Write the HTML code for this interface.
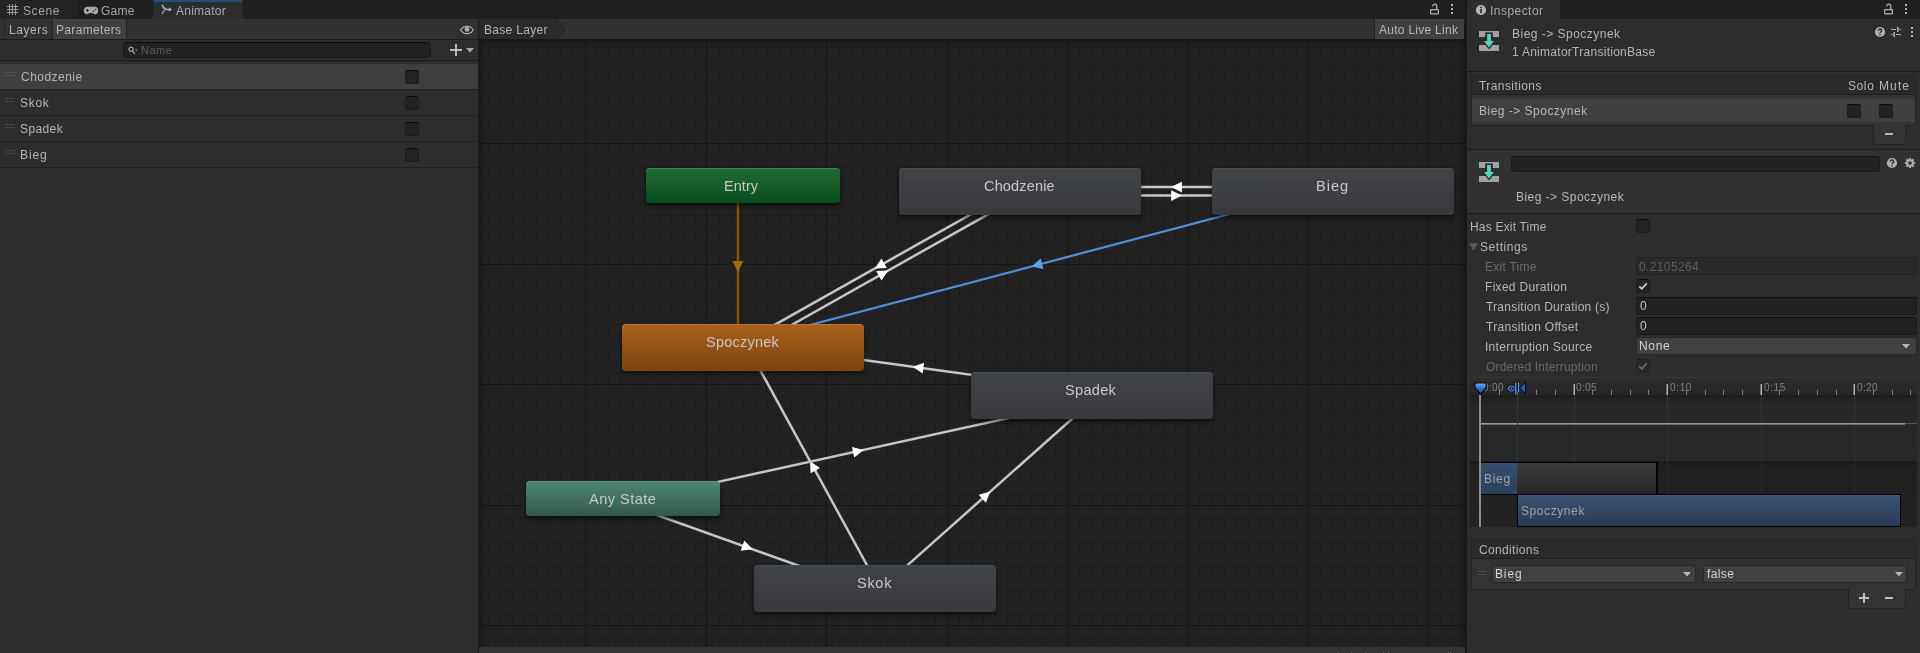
<!DOCTYPE html>
<html><head><meta charset="utf-8"><title>Animator</title>
<style>
html,body{margin:0;padding:0;background:#1f1f1f;}
body{width:1920px;height:653px;overflow:hidden;position:relative;font-family:"Liberation Sans", sans-serif;}
#r{position:absolute;left:0;top:0;width:1920px;height:653px;overflow:hidden;background:#1f1f1f;}
#r div,#r span,#r svg{position:absolute;box-sizing:border-box;}
#r span{white-space:pre;font-family:"Liberation Sans", sans-serif;will-change:transform;}
</style></head><body><div id="r">
<div style="left:0px;top:0px;width:1465px;height:19px;background:#1f1f1f;"></div>
<div style="left:0px;top:0px;width:77px;height:19px;background:#242424;"></div>
<div style="left:153px;top:0px;width:90px;height:19px;background:#2d2d2d;border-radius:3px 3px 0 0;"></div>
<div style="left:153px;top:0px;width:90px;height:2px;background:#22507b;border-radius:3px 3px 0 0;"></div>
<svg style="left:6px;top:3px" width="14" height="14" viewBox="0 0 14 14" shape-rendering="crispEdges"><path d="M3.500 1v11M6.500 1v11M9.500 1v11M1 3.500h11M1 6.500h11M1 9.500h11" stroke="#9c9c9c" stroke-width="1" fill="none"/></svg>
<span style="left:22.54px;top:4.84px;font-size:12px;line-height:12px;color:#a6a6a6;letter-spacing:0.578px;">Scene</span>
<svg style="left:83px;top:5px" width="16" height="10" viewBox="0 0 16 10"><path d="M4.400 1.800h7.200c2.100 0 3.600 1.600 3.600 3.800 0 2.200-1.200 3.700-2.800 3.700-1.100 0-1.800-.5-2.500-1.300H6.100c-.7.800-1.400 1.300-2.500 1.300C2 9.300.8 7.800.8 5.600c0-2.200 1.500-3.800 3.600-3.800z" fill="#a8a8a8"/><path d="M3.100 5.400h2.800M4.500 4v2.800" stroke="#222" stroke-width="1"/><circle cx="10.500" cy="6.200" r=".75" fill="#222"/><circle cx="12.500" cy="4.500" r=".75" fill="#222"/></svg>
<span style="left:100.95px;top:4.84px;font-size:12px;line-height:12px;color:#a6a6a6;letter-spacing:0.220px;">Game</span>
<svg style="left:161px;top:4px" width="12" height="11" viewBox="0 0 12 11"><path d="M1.400 1.300c.7 2.600 2 3.800 4.200 4.200H8.500" stroke="#a8a8a8" stroke-width="1.600" fill="none" stroke-linecap="round"/><path d="M1.400 9.700c.4-1.400 1-2.400 2-3.100" stroke="#909090" stroke-width="1.500" fill="none" stroke-linecap="round"/><path d="M7.800 3.200l3.400 2.300-3.400 2.300z" fill="#a8a8a8"/></svg>
<span style="left:176.12px;top:4.84px;font-size:12px;line-height:12px;color:#aaaaaa;letter-spacing:0.253px;">Animator</span>
<svg style="left:1429px;top:3px" width="12" height="12" viewBox="0 0 12 12"><rect x="1.600" y="6.600" width="7.800" height="4.300" rx=".6" fill="none" stroke="#b4b4b4" stroke-width="1.200"/><path d="M7.800 6.400V3.600c0-1.500-.9-2.400-2.100-2.400s-2.100.9-2.100 2.200" fill="none" stroke="#b4b4b4" stroke-width="1.200"/></svg>
<div style="left:1451px;top:4.3px;width:2px;height:2px;background:#b4b4b4;"></div>
<div style="left:1451px;top:8px;width:2px;height:2px;background:#b4b4b4;"></div>
<div style="left:1451px;top:11.8px;width:2px;height:2px;background:#b4b4b4;"></div>
<div style="left:0px;top:19px;width:478px;height:20px;background:#313131;"></div>
<div style="left:4px;top:19px;width:1px;height:20px;background:#232323;"></div>
<div style="left:52px;top:19px;width:1px;height:20px;background:#232323;"></div>
<div style="left:53px;top:19px;width:73px;height:20px;background:#404040;"></div>
<div style="left:126px;top:19px;width:1px;height:20px;background:#232323;"></div>
<span style="left:8.55px;top:23.84px;font-size:12px;line-height:12px;color:#b6b6b6;letter-spacing:0.526px;">Layers</span>
<span style="left:56.45px;top:23.84px;font-size:12px;line-height:12px;color:#b6b6b6;letter-spacing:0.331px;">Parameters</span>
<svg style="left:459px;top:24px" width="16" height="12" viewBox="0 0 16 12"><path d="M1.600 6c1.600-2.400 3.800-3.600 6.400-3.600s4.800 1.200 6.400 3.600c-1.600 2.400-3.800 3.600-6.400 3.600S3.200 8.400 1.600 6z" fill="none" stroke="#b0b0b0" stroke-width="1.200"/><circle cx="8" cy="5.400" r="2.300" fill="#b0b0b0"/></svg>
<div style="left:0px;top:39px;width:478px;height:1px;background:#1b1b1b;"></div>
<div style="left:0px;top:40px;width:478px;height:20px;background:#2d2d2d;"></div>
<div style="left:123px;top:42px;width:308px;height:16px;background:#222222;border:1px solid #1a1a1a;border-top-color:#0b0b0b;border-radius:4px;"></div>
<svg style="left:127px;top:45px" width="12" height="11" viewBox="0 0 12 11"><circle cx="4" cy="4.300" r="2.100" fill="none" stroke="#a0a0a0" stroke-width="1.200"/><path d="M5.500 5.900l2.300 2.900" stroke="#a0a0a0" stroke-width="1.300"/><path d="M8 4.400h2.600l-1.300 1.600z" fill="#a0a0a0"/></svg>
<span style="left:141.49px;top:44.69px;font-size:11px;line-height:11px;color:#5c5c5c;letter-spacing:0.523px;">Name</span>
<div style="left:450px;top:49px;width:12px;height:2px;background:#b8b8b8;"></div>
<div style="left:455px;top:44px;width:2px;height:12px;background:#b8b8b8;"></div>
<svg style="left:466px;top:48px" width="8" height="5" viewBox="0 0 8 5"><path d="M0 0h8L4 4.500z" fill="#a8a8a8"/></svg>
<div style="left:0px;top:60px;width:478px;height:1px;background:#1b1b1b;"></div>
<div style="left:0px;top:61px;width:478px;height:592px;background:#2d2d2d;"></div>
<div style="left:0px;top:64px;width:478px;height:25px;background:#3f3f3f;"></div>
<div style="left:0px;top:89px;width:478px;height:1px;background:#202020;"></div>
<div style="left:5px;top:72px;width:10px;height:1px;background:#505050;"></div>
<div style="left:5px;top:75px;width:10px;height:1px;background:#505050;"></div>
<span style="left:21.01px;top:70.84px;font-size:12px;line-height:12px;color:#b6b6b6;letter-spacing:0.469px;">Chodzenie</span>
<div style="left:405px;top:70px;width:14px;height:14px;background:#232323;border:1px solid #1c1c1c;border-top-color:#0c0c0c;border-radius:2.5px;"></div>
<div style="left:0px;top:115px;width:478px;height:1px;background:#202020;"></div>
<div style="left:5px;top:98px;width:10px;height:1px;background:#454545;"></div>
<div style="left:5px;top:101px;width:10px;height:1px;background:#454545;"></div>
<span style="left:20.24px;top:96.84px;font-size:12px;line-height:12px;color:#b6b6b6;letter-spacing:0.723px;">Skok</span>
<div style="left:405px;top:96px;width:14px;height:14px;background:#232323;border:1px solid #1c1c1c;border-top-color:#0c0c0c;border-radius:2.5px;"></div>
<div style="left:0px;top:141px;width:478px;height:1px;background:#202020;"></div>
<div style="left:5px;top:124px;width:10px;height:1px;background:#454545;"></div>
<div style="left:5px;top:127px;width:10px;height:1px;background:#454545;"></div>
<span style="left:20.24px;top:122.84px;font-size:12px;line-height:12px;color:#b6b6b6;letter-spacing:0.396px;">Spadek</span>
<div style="left:405px;top:122px;width:14px;height:14px;background:#232323;border:1px solid #1c1c1c;border-top-color:#0c0c0c;border-radius:2.5px;"></div>
<div style="left:0px;top:167px;width:478px;height:1px;background:#202020;"></div>
<div style="left:5px;top:150px;width:10px;height:1px;background:#454545;"></div>
<div style="left:5px;top:153px;width:10px;height:1px;background:#454545;"></div>
<span style="left:20.25px;top:148.84px;font-size:12px;line-height:12px;color:#b6b6b6;letter-spacing:0.923px;">Bieg</span>
<div style="left:405px;top:148px;width:14px;height:14px;background:#232323;border:1px solid #1c1c1c;border-top-color:#0c0c0c;border-radius:2.5px;"></div>
<div style="left:478px;top:19px;width:1px;height:634px;background:#1a1a1a;"></div>
<div style="left:479px;top:19px;width:985px;height:20px;background:#313131;"></div>
<svg style="left:479px;top:19px" width="90" height="20" viewBox="0 0 90 20"><path d="M0 0h77.500L86.500 10 77.500 20H0z" fill="#2a2a2a"/><path d="M77.500 0L86.500 10 77.500 20" fill="none" stroke="#202020" stroke-width="1"/></svg>
<span style="left:484.35px;top:23.84px;font-size:12px;line-height:12px;color:#b6b6b6;letter-spacing:0.313px;">Base Layer</span>
<div style="left:1374px;top:19px;width:1px;height:20px;background:#232323;"></div>
<div style="left:1375px;top:19px;width:89px;height:20px;background:#404040;"></div>
<span style="left:1379.07px;top:23.84px;font-size:12px;line-height:12px;color:#b6b6b6;letter-spacing:0.272px;">Auto Live Link</span>
<div style="left:479px;top:39px;width:986px;height:608px;background:#222222;"></div>
<svg style="left:479px;top:39px" width="986" height="608" shape-rendering="crispEdges"><path d="M10.5 0V608M22.5 0V608M34.5 0V608M46.5 0V608M58.5 0V608M70.5 0V608M82.5 0V608M94.5 0V608M118.5 0V608M130.5 0V608M142.5 0V608M154.5 0V608M166.5 0V608M179.5 0V608M191.5 0V608M203.5 0V608M215.5 0V608M239.5 0V608M251.5 0V608M263.5 0V608M275.5 0V608M287.5 0V608M299.5 0V608M311.5 0V608M323.5 0V608M335.5 0V608M359.5 0V608M371.5 0V608M383.5 0V608M395.5 0V608M407.5 0V608M419.5 0V608M431.5 0V608M443.5 0V608M456.5 0V608M480.5 0V608M492.5 0V608M504.5 0V608M516.5 0V608M528.5 0V608M540.5 0V608M552.5 0V608M564.5 0V608M576.5 0V608M600.5 0V608M612.5 0V608M624.5 0V608M636.5 0V608M648.5 0V608M660.5 0V608M672.5 0V608M684.5 0V608M696.5 0V608M720.5 0V608M733.5 0V608M745.5 0V608M757.5 0V608M769.5 0V608M781.5 0V608M793.5 0V608M805.5 0V608M817.5 0V608M841.5 0V608M853.5 0V608M865.5 0V608M877.5 0V608M889.5 0V608M901.5 0V608M913.5 0V608M925.5 0V608M937.5 0V608M961.5 0V608M973.5 0V608M985.5 0V608M0 8.5H986M0 20.5H986M0 32.5H986M0 44.5H986M0 56.5H986M0 68.5H986M0 80.5H986M0 92.5H986M0 116.5H986M0 128.5H986M0 140.5H986M0 152.5H986M0 164.5H986M0 176.5H986M0 188.5H986M0 201.5H986M0 213.5H986M0 237.5H986M0 249.5H986M0 261.5H986M0 273.5H986M0 285.5H986M0 297.5H986M0 309.5H986M0 321.5H986M0 333.5H986M0 357.5H986M0 369.5H986M0 381.5H986M0 393.5H986M0 405.5H986M0 417.5H986M0 429.5H986M0 442.5H986M0 454.5H986M0 478.5H986M0 490.5H986M0 502.5H986M0 514.5H986M0 526.5H986M0 538.5H986M0 550.5H986M0 562.5H986M0 574.5H986M0 598.5H986" stroke="#1c1c1c" stroke-width="1" fill="none"/><path d="M106.5 0V608M227.5 0V608M347.5 0V608M468.5 0V608M588.5 0V608M708.5 0V608M829.5 0V608M949.5 0V608M0 104.5H986M0 225.5H986M0 345.5H986M0 466.5H986M0 586.5H986" stroke="#151515" stroke-width="1" fill="none"/></svg>
<div style="left:479px;top:39px;width:986px;height:7px;background:linear-gradient(#151515cc,#15151500);"></div>
<div style="left:479px;top:39px;width:6px;height:608px;background:linear-gradient(90deg,#151515aa,#15151500);"></div>
<div style="left:1458px;top:39px;width:7px;height:608px;background:linear-gradient(270deg,#15151590,#15151500);"></div>
<svg style="left:479px;top:39px" width="986" height="608"><path d="M258.90 146.50L258.90 308.50" stroke="#865700" stroke-width="2.4" fill="none"/><path d="M258.90 232.90L253.50 222.10L264.30 222.10z" fill="#a26d00"/><path d="M538.94 148.84L261.94 304.84" stroke="#c6c6c6" stroke-width="2.5" fill="none"/><path d="M395.73 229.49L402.49 219.49L407.79 228.90z" fill="#ffffff"/><path d="M266.06 312.16L543.06 156.16" stroke="#c6c6c6" stroke-width="2.5" fill="none"/><path d="M409.27 231.51L402.51 241.51L397.21 232.10z" fill="#ffffff"/><path d="M852.82 148.05L262.82 304.05" stroke="#5191d8" stroke-width="2.2" fill="none"/><path d="M552.60 227.43L561.66 219.45L564.43 229.89z" fill="#5da2ec"/><path d="M541.00 156.60L854.00 156.60" stroke="#c6c6c6" stroke-width="2.5" fill="none"/><path d="M702.90 156.60L692.10 162.00L692.10 151.20z" fill="#ffffff"/><path d="M854.00 148.10L541.00 148.10" stroke="#c6c6c6" stroke-width="2.5" fill="none"/><path d="M692.10 148.10L702.90 142.70L702.90 153.50z" fill="#ffffff"/><path d="M613.56 352.44L264.56 304.44" stroke="#c6c6c6" stroke-width="2.5" fill="none"/><path d="M433.71 327.70L445.14 323.82L443.67 334.52z" fill="#ffffff"/><path d="M399.68 547.48L267.68 306.48" stroke="#c6c6c6" stroke-width="2.5" fill="none"/><path d="M331.09 422.25L341.01 429.12L331.54 434.31z" fill="#ffffff"/><path d="M144.90 463.60L613.90 360.60" stroke="#c6c6c6" stroke-width="2.5" fill="none"/><path d="M384.68 410.94L375.28 418.53L372.97 407.99z" fill="#ffffff"/><path d="M398.79 552.64L615.79 359.64" stroke="#c6c6c6" stroke-width="2.5" fill="none"/><path d="M511.33 452.55L506.84 463.76L499.67 455.69z" fill="#ffffff"/><path d="M142.59 463.46L394.59 553.46" stroke="#c6c6c6" stroke-width="2.5" fill="none"/><path d="M273.67 510.27L261.69 511.72L265.32 501.55z" fill="#ffffff"/></svg>
<div style="left:646px;top:168px;width:194px;height:35px;background:linear-gradient(#256b34,#054d1d);border-radius:4px;box-shadow:0 3px 5px 0 rgba(0,0,0,.5), inset 0 1px 0 #5a9a6680;"></div>
<span style="left:724.29px;top:178.73px;font-size:14.5px;line-height:14.5px;color:#c8c8c8;letter-spacing:0.045px;">Entry</span>
<div style="left:899px;top:168px;width:242px;height:47px;background:linear-gradient(#414447,#38393c);border-radius:4px;box-shadow:0 3px 5px 0 rgba(0,0,0,.5), inset 0 1px 0 #55585c80;"></div>
<span style="left:983.77px;top:178.73px;font-size:14.5px;line-height:14.5px;color:#c8c8c8;letter-spacing:0.158px;">Chodzenie</span>
<div style="left:1212px;top:168px;width:242px;height:47px;background:linear-gradient(#414447,#38393c);border-radius:4px;box-shadow:0 3px 5px 0 rgba(0,0,0,.5), inset 0 1px 0 #55585c80;"></div>
<span style="left:1316.09px;top:178.73px;font-size:14.5px;line-height:14.5px;color:#c8c8c8;letter-spacing:1.043px;">Bieg</span>
<div style="left:622px;top:324px;width:242px;height:47px;background:linear-gradient(#ad611c,#7a440e);border-radius:4px;box-shadow:0 3px 5px 0 rgba(0,0,0,.5), inset 0 1px 0 #c98a4a80;"></div>
<span style="left:705.61px;top:334.73px;font-size:14.5px;line-height:14.5px;color:#c8c8c8;letter-spacing:0.227px;">Spoczynek</span>
<div style="left:971px;top:372px;width:242px;height:47px;background:linear-gradient(#414447,#38393c);border-radius:4px;box-shadow:0 3px 5px 0 rgba(0,0,0,.5), inset 0 1px 0 #55585c80;"></div>
<span style="left:1064.91px;top:382.73px;font-size:14.5px;line-height:14.5px;color:#c8c8c8;letter-spacing:0.330px;">Spadek</span>
<div style="left:526px;top:481px;width:194px;height:35px;background:linear-gradient(#4f8676,#32584e);border-radius:4px;box-shadow:0 3px 5px 0 rgba(0,0,0,.5), inset 0 1px 0 #74a89880;"></div>
<span style="left:589.07px;top:491.73px;font-size:14.5px;line-height:14.5px;color:#c8c8c8;letter-spacing:0.492px;">Any State</span>
<div style="left:754px;top:565px;width:242px;height:47px;background:linear-gradient(#414447,#38393c);border-radius:4px;box-shadow:0 3px 5px 0 rgba(0,0,0,.5), inset 0 1px 0 #55585c80;"></div>
<span style="left:856.51px;top:575.73px;font-size:14.5px;line-height:14.5px;color:#c8c8c8;letter-spacing:0.717px;">Skok</span>
<div style="left:479px;top:647px;width:986px;height:6px;background:#333333;"></div>
<div style="left:1465px;top:0px;width:2px;height:653px;background:#181818;"></div>
<div style="left:1464px;top:19px;width:1px;height:20px;background:#181818;"></div>
<div style="left:1338px;top:652px;width:1px;height:1px;background:#666;"></div>
<div style="left:1351px;top:652px;width:1px;height:1px;background:#666;"></div>
<div style="left:1365px;top:652px;width:1px;height:1px;background:#666;"></div>
<div style="left:1383px;top:652px;width:1px;height:1px;background:#666;"></div>
<div style="left:1388px;top:652px;width:1px;height:1px;background:#666;"></div>
<div style="left:1448px;top:652px;width:1px;height:1px;background:#666;"></div>
<div style="left:1450px;top:652px;width:1px;height:1px;background:#666;"></div>
<div style="left:1467px;top:0px;width:453px;height:19px;background:#1f1f1f;"></div>
<div style="left:1467px;top:0px;width:93px;height:19px;background:#2d2d2d;border-radius:4px 4px 0 0;"></div>
<div style="left:1467px;top:19px;width:453px;height:634px;background:#2d2d2d;"></div>
<svg style="left:1475px;top:4px" width="12" height="12" viewBox="0 0 12 12"><circle cx="6" cy="6" r="5.100" fill="#b4b4b4"/><rect x="5.200" y="5" width="1.700" height="4.200" fill="#2d2d2d"/><rect x="5.200" y="2.600" width="1.700" height="1.600" fill="#2d2d2d"/></svg>
<span style="left:1490.40px;top:4.84px;font-size:12px;line-height:12px;color:#aaaaaa;letter-spacing:0.457px;">Inspector</span>
<svg style="left:1883px;top:3px" width="12" height="12" viewBox="0 0 12 12"><rect x="1.600" y="6.600" width="7.800" height="4.300" rx=".6" fill="none" stroke="#b4b4b4" stroke-width="1.200"/><path d="M7.800 6.400V3.600c0-1.500-.9-2.400-2.100-2.400s-2.100.9-2.100 2.200" fill="none" stroke="#b4b4b4" stroke-width="1.200"/></svg>
<div style="left:1905px;top:4.3px;width:2px;height:2px;background:#b4b4b4;"></div>
<div style="left:1905px;top:8px;width:2px;height:2px;background:#b4b4b4;"></div>
<div style="left:1905px;top:11.8px;width:2px;height:2px;background:#b4b4b4;"></div>
<svg style="left:1479px;top:31px" width="20" height="20" viewBox="0 0 20 20"><path d="M0 0h20v6H0z" fill="#a2a2a2"/><path d="M0 14h20v6H0z" fill="#a2a2a2"/><path d="M5 9.400h10l-5 7z" fill="#2a2a2a" stroke="#2a2a2a" stroke-width="2.800" stroke-linejoin="round"/><rect x="6.200" y="1.400" width="7.600" height="8.600" fill="#2a2a2a"/><path d="M8.100 3h3.800v7H15l-5 6.600L5 10h3.100z" fill="#56d4ba"/></svg>
<span style="left:1511.75px;top:27.84px;font-size:12px;line-height:12px;color:#b6b6b6;letter-spacing:0.479px;">Bieg -&gt; Spoczynek</span>
<span style="left:1511.56px;top:45.84px;font-size:12px;line-height:12px;color:#b6b6b6;letter-spacing:0.273px;">1 AnimatorTransitionBase</span>
<svg style="left:1874px;top:26px" width="12" height="12" viewBox="0 0 12 12"><circle cx="6" cy="6" r="5.100" fill="#b0b0b0"/><path d="M4.300 4.700c0-1 .7-1.700 1.700-1.700s1.700.6 1.700 1.500c0 1.300-1.600 1.200-1.600 2.500" fill="none" stroke="#2d2d2d" stroke-width="1.300"/><rect x="5.300" y="7.900" width="1.500" height="1.500" fill="#2d2d2d"/></svg>
<svg style="left:1890px;top:26px" width="12" height="12" viewBox="0 0 12 12"><path d="M1 3.500h5M9.500 3.500H11M1 8.500h1.500M6 8.500h5" stroke="#b4b4b4" stroke-width="1.200"/><path d="M7.800 1v5M4.200 6v5" stroke="#b4b4b4" stroke-width="1.500"/></svg>
<div style="left:1911px;top:27.3px;width:2px;height:2px;background:#b4b4b4;"></div>
<div style="left:1911px;top:31px;width:2px;height:2px;background:#b4b4b4;"></div>
<div style="left:1911px;top:34.8px;width:2px;height:2px;background:#b4b4b4;"></div>
<div style="left:1467px;top:71px;width:453px;height:1px;background:#1a1a1a;"></div>
<div style="left:1471px;top:75px;width:445px;height:51px;background:#353535;border:1px solid #222;border-radius:3px;"></div>
<div style="left:1472px;top:76px;width:443px;height:18px;background:#2a2a2a;border-radius:2px 2px 0 0;"></div>
<div style="left:1472px;top:94px;width:443px;height:1px;background:#202020;"></div>
<div style="left:1472px;top:99px;width:443px;height:23px;background:#404040;"></div>
<span style="left:1479.16px;top:79.84px;font-size:12px;line-height:12px;color:#b6b6b6;letter-spacing:0.420px;">Transitions</span>
<span style="left:1847.54px;top:79.84px;font-size:12px;line-height:12px;color:#b6b6b6;letter-spacing:0.597px;">Solo</span>
<span style="left:1879.35px;top:79.84px;font-size:12px;line-height:12px;color:#b6b6b6;letter-spacing:1.120px;">Mute</span>
<span style="left:1478.55px;top:104.84px;font-size:12px;line-height:12px;color:#b6b6b6;letter-spacing:0.485px;">Bieg -&gt; Spoczynek</span>
<div style="left:1847px;top:104px;width:14px;height:14px;background:#232323;border:1px solid #1c1c1c;border-top-color:#0c0c0c;border-radius:2.5px;"></div>
<div style="left:1879px;top:104px;width:14px;height:14px;background:#232323;border:1px solid #1c1c1c;border-top-color:#0c0c0c;border-radius:2.5px;"></div>
<div style="left:1873px;top:125px;width:33px;height:20px;background:#343434;border:1px solid #222;border-top:none;border-radius:0 0 4px 4px;"></div>
<div style="left:1885px;top:133px;width:8px;height:2px;background:#b8b8b8;"></div>
<div style="left:1467px;top:149px;width:453px;height:1px;background:#1a1a1a;"></div>
<div style="left:1467px;top:150px;width:453px;height:63px;background:#313131;"></div>
<svg style="left:1479px;top:162px" width="20" height="20" viewBox="0 0 20 20"><path d="M0 0h20v6H0z" fill="#a2a2a2"/><path d="M0 14h20v6H0z" fill="#a2a2a2"/><path d="M5 9.400h10l-5 7z" fill="#2a2a2a" stroke="#2a2a2a" stroke-width="2.800" stroke-linejoin="round"/><rect x="6.200" y="1.400" width="7.600" height="8.600" fill="#2a2a2a"/><path d="M8.100 3h3.800v7H15l-5 6.600L5 10h3.100z" fill="#56d4ba"/></svg>
<div style="left:1511px;top:156px;width:369px;height:16px;background:#222;border:1px solid #1b1b1b;border-top-color:#101010;border-radius:3px;"></div>
<svg style="left:1886px;top:157px" width="12" height="12" viewBox="0 0 12 12"><circle cx="6" cy="6" r="5.100" fill="#b0b0b0"/><path d="M4.300 4.700c0-1 .7-1.700 1.700-1.700s1.700.6 1.700 1.500c0 1.300-1.600 1.200-1.600 2.500" fill="none" stroke="#2d2d2d" stroke-width="1.300"/><rect x="5.300" y="7.900" width="1.500" height="1.500" fill="#2d2d2d"/></svg>
<svg style="left:1904px;top:157px" width="12" height="12" viewBox="0 0 12 12"><g fill="#acacac"><circle cx="6" cy="6" r="3.800"/><rect x="4.900" y=".9" width="2.200" height="10.200" rx=".5"/><rect x="4.900" y=".9" width="2.200" height="10.200" rx=".5" transform="rotate(45 6 6)"/><rect x="4.900" y=".9" width="2.200" height="10.200" rx=".5" transform="rotate(90 6 6)"/><rect x="4.900" y=".9" width="2.200" height="10.200" rx=".5" transform="rotate(135 6 6)"/></g><circle cx="6" cy="6" r="1.800" fill="#313131"/></svg>
<span style="left:1515.95px;top:190.84px;font-size:12px;line-height:12px;color:#b6b6b6;letter-spacing:0.460px;">Bieg -&gt; Spoczynek</span>
<div style="left:1467px;top:213px;width:453px;height:1px;background:#1a1a1a;"></div>
<span style="left:1470.45px;top:220.84px;font-size:12px;line-height:12px;color:#b6b6b6;letter-spacing:0.192px;">Has Exit Time</span>
<div style="left:1636px;top:219px;width:14px;height:14px;background:#232323;border:1px solid #1c1c1c;border-top-color:#0c0c0c;border-radius:2.5px;"></div>
<svg style="left:1469px;top:243px" width="9" height="8" viewBox="0 0 9 8"><path d="M.3.300h8.400L4.500 7.700z" fill="#5a5a5a"/></svg>
<span style="left:1480.44px;top:240.84px;font-size:12px;line-height:12px;color:#b6b6b6;letter-spacing:0.560px;">Settings</span>
<span style="left:1485.45px;top:260.84px;font-size:12px;line-height:12px;color:#6a6a6a;letter-spacing:0.264px;">Exit Time</span>
<div style="left:1636px;top:257px;width:281px;height:18px;background:#292929;border:1px solid #212121;border-radius:3px;"></div>
<span style="left:1639.26px;top:260.84px;font-size:12px;line-height:12px;color:#606060;letter-spacing:0.375px;">0.2105264</span>
<span style="left:1485.45px;top:280.84px;font-size:12px;line-height:12px;color:#b6b6b6;letter-spacing:0.298px;">Fixed Duration</span>
<div style="left:1636px;top:279px;width:14px;height:14px;background:#232323;border:1px solid #1c1c1c;border-top-color:#0c0c0c;border-radius:2.5px;"></div>
<svg style="left:1636px;top:279px" width="14" height="14" viewBox="0 0 14 14"><path d="M3.300 7.300l2.500 2.500 5-5.600" fill="none" stroke="#d0d0d0" stroke-width="1.700"/></svg>
<span style="left:1486.36px;top:300.84px;font-size:12px;line-height:12px;color:#b6b6b6;letter-spacing:0.238px;">Transition Duration (s)</span>
<div style="left:1636px;top:297px;width:281px;height:18px;background:#222;border:1px solid #1b1b1b;border-top-color:#0e0e0e;border-radius:3px;"></div>
<span style="left:1639.56px;top:299.84px;font-size:12px;line-height:12px;color:#c8c8c8;">0</span>
<span style="left:1486.36px;top:320.84px;font-size:12px;line-height:12px;color:#b6b6b6;letter-spacing:0.294px;">Transition Offset</span>
<div style="left:1636px;top:317px;width:281px;height:18px;background:#222;border:1px solid #1b1b1b;border-top-color:#0e0e0e;border-radius:3px;"></div>
<span style="left:1639.56px;top:319.84px;font-size:12px;line-height:12px;color:#c8c8c8;">0</span>
<span style="left:1485.40px;top:340.84px;font-size:12px;line-height:12px;color:#b6b6b6;letter-spacing:0.291px;">Interruption Source</span>
<div style="left:1636px;top:337px;width:281px;height:18px;background:#414141;border:1px solid #272727;border-radius:3px;"></div>
<span style="left:1639.35px;top:339.84px;font-size:12px;line-height:12px;color:#d2d2d2;letter-spacing:0.687px;">None</span>
<svg style="left:1902px;top:344px" width="8" height="5" viewBox="0 0 8 5"><path d="M0 0h8L4 4.500z" fill="#b8b8b8"/></svg>
<span style="left:1486.23px;top:360.84px;font-size:12px;line-height:12px;color:#6a6a6a;letter-spacing:0.184px;">Ordered Interruption</span>
<div style="left:1636px;top:359px;width:14px;height:14px;background:#292929;border:1px solid #232323;border-top-color:#1c1c1c;border-radius:2.5px;"></div>
<svg style="left:1636px;top:359px" width="14" height="14" viewBox="0 0 14 14"><path d="M3.300 7.300l2.500 2.500 5-5.600" fill="none" stroke="#707070" stroke-width="1.600"/></svg>
<div style="left:1470px;top:377px;width:447px;height:1px;background:#363636;"></div>
<div style="left:1470px;top:378px;width:447px;height:17px;background:linear-gradient(#2c2c2c,#262626);"></div>
<div style="left:1470px;top:395px;width:447px;height:66px;background:linear-gradient(#1d1d1d,#272727 10px,#282828);"></div>
<div style="left:1470px;top:461px;width:447px;height:66px;background:linear-gradient(#1a1a1a,#202020 8px,#222222);"></div>
<div style="left:1479px;top:384px;width:1px;height:11px;background:#00000000;"></div>
<div style="left:1480px;top:384px;width:1px;height:11px;background:#00000000;"></div>
<span style="left:1482.82px;top:382.54px;font-size:10px;line-height:10px;color:#808080;letter-spacing:0.367px;">0:00</span>
<div style="left:1499px;top:390px;width:1px;height:5px;background:#7e7e7e;"></div>
<div style="left:1517px;top:390px;width:1px;height:5px;background:#7e7e7e;"></div>
<div style="left:1536px;top:390px;width:1px;height:5px;background:#7e7e7e;"></div>
<div style="left:1555px;top:390px;width:1px;height:5px;background:#7e7e7e;"></div>
<div style="left:1573px;top:384px;width:1px;height:11px;background:#6e6e6e;"></div>
<div style="left:1574px;top:384px;width:1px;height:11px;background:#b0b0b0;"></div>
<div style="left:1574px;top:395px;width:1px;height:66px;background:#343434;"></div>
<div style="left:1574px;top:461px;width:1px;height:66px;background:#2b2b2b;"></div>
<span style="left:1576.37px;top:382.54px;font-size:10px;line-height:10px;color:#808080;letter-spacing:0.377px;">0:05</span>
<div style="left:1592px;top:390px;width:1px;height:5px;background:#7e7e7e;"></div>
<div style="left:1611px;top:390px;width:1px;height:5px;background:#7e7e7e;"></div>
<div style="left:1630px;top:390px;width:1px;height:5px;background:#7e7e7e;"></div>
<div style="left:1648px;top:390px;width:1px;height:5px;background:#7e7e7e;"></div>
<div style="left:1666px;top:384px;width:1px;height:11px;background:#6e6e6e;"></div>
<div style="left:1667px;top:384px;width:1px;height:11px;background:#b0b0b0;"></div>
<div style="left:1667px;top:395px;width:1px;height:66px;background:#343434;"></div>
<div style="left:1667px;top:461px;width:1px;height:66px;background:#2b2b2b;"></div>
<span style="left:1669.93px;top:382.54px;font-size:10px;line-height:10px;color:#808080;letter-spacing:0.647px;">0:10</span>
<div style="left:1686px;top:390px;width:1px;height:5px;background:#7e7e7e;"></div>
<div style="left:1705px;top:390px;width:1px;height:5px;background:#7e7e7e;"></div>
<div style="left:1723px;top:390px;width:1px;height:5px;background:#7e7e7e;"></div>
<div style="left:1742px;top:390px;width:1px;height:5px;background:#7e7e7e;"></div>
<div style="left:1760px;top:384px;width:1px;height:11px;background:#6e6e6e;"></div>
<div style="left:1761px;top:384px;width:1px;height:11px;background:#b0b0b0;"></div>
<div style="left:1761px;top:395px;width:1px;height:66px;background:#343434;"></div>
<div style="left:1761px;top:461px;width:1px;height:66px;background:#2b2b2b;"></div>
<span style="left:1763.50px;top:382.54px;font-size:10px;line-height:10px;color:#808080;letter-spacing:0.637px;">0:15</span>
<div style="left:1779px;top:390px;width:1px;height:5px;background:#7e7e7e;"></div>
<div style="left:1798px;top:390px;width:1px;height:5px;background:#7e7e7e;"></div>
<div style="left:1817px;top:390px;width:1px;height:5px;background:#7e7e7e;"></div>
<div style="left:1836px;top:390px;width:1px;height:5px;background:#7e7e7e;"></div>
<div style="left:1853px;top:384px;width:1px;height:11px;background:#6e6e6e;"></div>
<div style="left:1854px;top:384px;width:1px;height:11px;background:#b0b0b0;"></div>
<div style="left:1854px;top:395px;width:1px;height:66px;background:#343434;"></div>
<div style="left:1854px;top:461px;width:1px;height:66px;background:#2b2b2b;"></div>
<span style="left:1857.07px;top:382.54px;font-size:10px;line-height:10px;color:#808080;letter-spacing:0.380px;">0:20</span>
<div style="left:1873px;top:390px;width:1px;height:5px;background:#7e7e7e;"></div>
<div style="left:1892px;top:390px;width:1px;height:5px;background:#7e7e7e;"></div>
<div style="left:1910px;top:390px;width:1px;height:5px;background:#7e7e7e;"></div>
<div style="left:1481px;top:423px;width:424px;height:1px;background:#9a9a9a;"></div>
<div style="left:1481px;top:424px;width:424px;height:1px;background:#707070;"></div>
<div style="left:1905px;top:423px;width:12px;height:1px;background:#505050;"></div>
<div style="left:1517px;top:395px;width:1px;height:132px;background:#24395a;"></div>
<svg style="left:1506px;top:381px" width="22" height="15" viewBox="0 0 22 15"><path d="M2 7.500L4.200 5h2.600L9 7.500 6.800 10H4.200z" fill="none" stroke="#0a0a0a" stroke-width="2.600"/><path d="M2 7.500L4.200 5h2.600L9 7.500 6.800 10H4.200z" fill="#1a1a1a" stroke="#4a8ae0" stroke-width="1.200"/><circle cx="5.500" cy="7.500" r=".9" fill="#4a8ae0"/><rect x="8.500" y=".8" width="2.600" height="13" fill="#0a0a0a"/><rect x="9.100" y="1.400" width="1.400" height="12" fill="#5a9af0"/><rect x="11.500" y=".8" width="2.400" height="11.400" fill="#0a0a0a"/><rect x="12" y="1.400" width="1.300" height="10" fill="#5a9af0"/><path d="M13.600 7L19.600 1.200v11.600z" fill="#1a5ac8" stroke="#0a0a0a" stroke-width="1"/></svg>
<div style="left:1479px;top:395px;width:2px;height:132px;background:#8e8e8e;"></div>
<svg style="left:1473px;top:381px" width="15" height="15" viewBox="0 0 15 15"><defs><linearGradient id="pg" x1="0" y1="0" x2="0" y2="1"><stop offset="0" stop-color="#79b0ee"/><stop offset=".45" stop-color="#2f74d8"/><stop offset="1" stop-color="#1350b8"/></linearGradient></defs><path d="M3 2h9.200l1 1v3.600L7.500 13 1.900 6.600V3z" fill="url(#pg)" stroke="#0a0a0a" stroke-width="1.200" stroke-linejoin="round"/></svg>
<div style="left:1481px;top:462px;width:177px;height:33px;background:#000;"></div>
<div style="left:1481px;top:463px;width:36px;height:31px;background:linear-gradient(#364e71,#2c405e);"></div>
<div style="left:1517px;top:463px;width:139px;height:31px;background:linear-gradient(#3c3c3c,#272727);"></div>
<span style="left:1484.05px;top:472.84px;font-size:12px;line-height:12px;color:#a0a0a0;letter-spacing:0.723px;">Bieg</span>
<div style="left:1517px;top:494px;width:384px;height:33px;background:#000;"></div>
<div style="left:1518px;top:495px;width:382px;height:31px;background:linear-gradient(#465f80,#3a5173 2px,#293a55);"></div>
<span style="left:1520.94px;top:504.84px;font-size:12px;line-height:12px;color:#a0a0a0;letter-spacing:0.585px;">Spoczynek</span>
<div style="left:1471px;top:539px;width:445px;height:51px;background:#333333;border:1px solid #222;border-radius:3px;"></div>
<div style="left:1472px;top:540px;width:443px;height:18px;background:#2a2a2a;border-radius:2px 2px 0 0;"></div>
<div style="left:1472px;top:558px;width:443px;height:1px;background:#202020;"></div>
<span style="left:1479.11px;top:543.84px;font-size:12px;line-height:12px;color:#b6b6b6;letter-spacing:0.354px;">Conditions</span>
<div style="left:1477px;top:571px;width:10px;height:1px;background:#4a4a4a;"></div>
<div style="left:1477px;top:574px;width:10px;height:1px;background:#4a4a4a;"></div>
<div style="left:1492px;top:565px;width:204px;height:18px;background:#414141;border:1px solid #272727;border-radius:3px;"></div>
<div style="left:1703px;top:565px;width:204px;height:18px;background:#414141;border:1px solid #272727;border-radius:3px;"></div>
<span style="left:1495.45px;top:567.84px;font-size:12px;line-height:12px;color:#d2d2d2;letter-spacing:0.857px;">Bieg</span>
<span style="left:1707.08px;top:567.84px;font-size:12px;line-height:12px;color:#d2d2d2;letter-spacing:0.370px;">false</span>
<svg style="left:1683px;top:572px" width="8" height="5" viewBox="0 0 8 5"><path d="M0 0h8L4 4.500z" fill="#b8b8b8"/></svg>
<svg style="left:1895px;top:572px" width="8" height="5" viewBox="0 0 8 5"><path d="M0 0h8L4 4.500z" fill="#b8b8b8"/></svg>
<div style="left:1848px;top:589px;width:58px;height:20px;background:#333333;border:1px solid #222;border-top:none;border-radius:0 0 4px 4px;"></div>
<div style="left:1859px;top:597px;width:10px;height:2px;background:#c0c0c0;"></div>
<div style="left:1863px;top:593px;width:2px;height:10px;background:#c0c0c0;"></div>
<div style="left:1885px;top:597px;width:8px;height:2px;background:#c0c0c0;"></div>
</div></body></html>
